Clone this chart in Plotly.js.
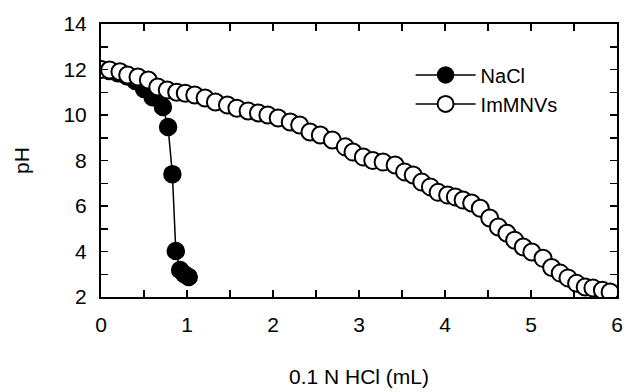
<!DOCTYPE html>
<html>
<head>
<meta charset="utf-8">
<script src="https://cdn.plot.ly/plotly-3.0.1.min.js"></script>
<style>html,body{margin:0;padding:0;background:#fff}#chart{width:627px;height:392px}</style>
</head>
<body>
<div id="chart"></div>
<script>
const naclX = [0, 0.1, 0.2, 0.3, 0.4, 0.5, 0.6, 0.72, 0.78, 0.83, 0.87, 0.92, 0.97, 1.02];
const naclY = [12.0, 11.93, 11.83, 11.7, 11.5, 11.15, 10.78, 10.35, 9.47, 7.4, 4.02, 3.19, 3.0, 2.88];

const immX = [0, 0.1, 0.22, 0.31, 0.43, 0.55, 0.66, 0.77, 0.88, 0.98,
  1.09, 1.21, 1.33, 1.47, 1.58, 1.71, 1.83, 1.94, 2.06, 2.2,
  2.31, 2.43, 2.55, 2.69, 2.84, 2.93, 3.05, 3.16, 3.28, 3.42,
  3.53, 3.63, 3.73, 3.83, 3.92, 4.03, 4.12, 4.21, 4.31, 4.41,
  4.52, 4.62, 4.72, 4.81, 4.91, 5.01, 5.14, 5.24, 5.34, 5.43,
  5.53, 5.63, 5.72, 5.83, 5.92];
const immY = [12.0, 11.98, 11.9, 11.76, 11.67, 11.54, 11.23, 11.1, 11.0, 10.96,
  10.88, 10.75, 10.57, 10.44, 10.3, 10.18, 10.09, 10.0, 9.87, 9.69,
  9.56, 9.25, 9.12, 8.9, 8.6, 8.37, 8.15, 8.0, 7.93, 7.8,
  7.5, 7.36, 7.05, 6.84, 6.6, 6.48, 6.4, 6.26, 6.13, 5.9,
  5.47, 5.08, 4.8, 4.5, 4.2, 3.98, 3.7, 3.3, 3.05, 2.84,
  2.6, 2.44, 2.4, 2.3, 2.22];

const seriesNames = ['NaCl', 'ImMNVs'];
const xTitle = '0.1 N HCl (mL)';
const yTitle = 'pH';

const traces = [
  {x: naclX, y: naclY, name: seriesNames[0], type: 'scatter', mode: 'lines+markers',
   line: {color: '#000', width: 1.5},
   marker: {symbol: 'circle', size: 17, color: '#000', line: {color: '#000', width: 1.5}}},
  {x: immX, y: immY, name: seriesNames[1], type: 'scatter', mode: 'lines+markers',
   line: {color: '#000', width: 1.5},
   marker: {symbol: 'circle', size: 17, color: '#fff', line: {color: '#000', width: 2}}}
];

const font = {family: 'Liberation Sans, Arial, sans-serif', size: 21, color: '#000'};
const layout = {
  width: 627, height: 392,
  margin: {l: 101, r: 10, t: 24, b: 95},
  paper_bgcolor: '#fff', plot_bgcolor: '#fff',
  font: font,
  showlegend: true,
  legend: {x: 0.6, y: 0.885, xanchor: 'left', yanchor: 'top', bgcolor: 'rgba(0,0,0,0)',
           itemwidth: 60,
           font: {family: font.family, size: 20, color: '#000'}, tracegroupgap: 0},
  xaxis: {
    range: [0, 6], dtick: 1, tick0: 0, showgrid: false, zeroline: false,
    showline: true, linecolor: '#000', linewidth: 2, mirror: 'ticks',
    ticks: 'inside', ticklen: 7, tickwidth: 1.5, tickcolor: '#000',
    ticklabelstandoff: 8,
    minor: {dtick: 0.5, ticks: 'inside', ticklen: 7, tickwidth: 1.5, tickcolor: '#000', showgrid: false},
    title: {text: xTitle, font: font, standoff: 34}
  },
  yaxis: {
    range: [2, 14], dtick: 2, tick0: 2, showgrid: false, zeroline: false,
    showline: true, linecolor: '#000', linewidth: 2, mirror: 'ticks',
    ticks: 'inside', ticklen: 7, tickwidth: 1.5, tickcolor: '#000',
    ticklabelstandoff: 8,
    minor: {dtick: 1, ticks: 'inside', ticklen: 7, tickwidth: 1.5, tickcolor: '#000', showgrid: false},
    title: {text: yTitle, font: font, standoff: 28}
  }
};

Plotly.newPlot('chart', traces, layout, {displayModeBar: false, staticPlot: true});
</script>
</body>
</html>
